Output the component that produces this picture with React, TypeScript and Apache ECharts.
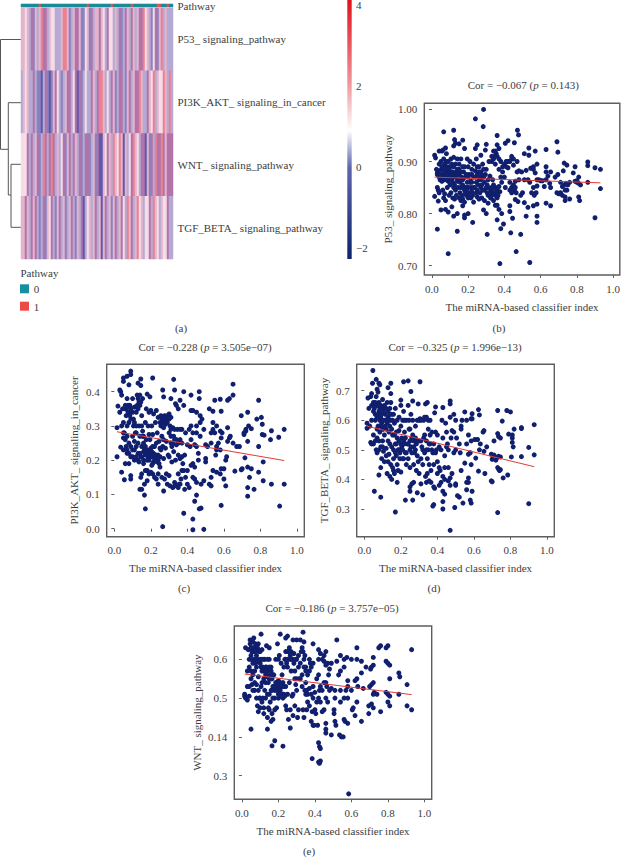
import React, { useEffect, useRef } from "react";
import * as echarts from "echarts";

const FONT = "Liberation Serif";
const INK = "#3d3d3d";
const NAVY = "#101f6e";

const xTicks = [0, 0.2, 0.4, 0.6, 0.8, 1.0];
const xName = "The miRNA-based classifier index";

const pathways = ["P53_ signaling_pathway", "PI3K_AKT_ signaling_in_cancer", "WNT_ signaling_pathway", "TGF_BETA_ signaling_pathway"];
const D = -1.25, P = -0.5, L = 0.25, M = 1, K = 1.75, W = 2.5, R = 3.25, S = 4;
const heatColors = ["#2a2f88", "#6058ac", "#8a82c0", "#b4aad4", "#b274a8", "#e4b4cc", "#f6dce6", "#ec8090", "#d8202c"];
const rowP53 = [K,K,W,K,L,M,P,K,L,K,R,M,M,L,K,W,W,L,L,L,K,R,R,K,P,L,K,M,M,K,P,P,W,K,P,M,L,K,K,M, K,W,L,M,W,W,L,K,L,M,P,L,M,K,L,M,K,L,K,M,M,R,W,K,L,P,W,M,P,K,R,L,K,L,L,L];
const rowPI3K = [L,K,W,K,L,L,M,L,P,P,D,L,M,P,D,P,K,M,W,L,P,L,K,M,M,L,W,M,D,M,P,L,W,L,L,M,K,L,M,R, R,K,L,W,L,M,K,P,L,M,M,L,P,K,M,L,K,M,M,R,K,L,L,M,K,W,R,L,K,W,W,R,K,L,R,L];
const rowWNT = [W,W,W,M,L,M,L,K,M,P,L,R,M,L,M,R,M,L,K,L,W,M,P,K,M,L,M,K,L,M,P,L,M,M,P,L,K,P,M,D, D,K,W,M,K,L,R,K,W,R,K,D,K,L,W,M,R,K,W,L,M,M,D,K,P,M,L,R,M,M,R,M,K,M,M,M];
const rowTGF = [K,K,M,K,L,M,K,M,L,P,L,M,P,K,W,M,L,P,K,M,L,K,P,L,K,M,L,P,K,L,M,D,L,W,K,L,K,M,L,K, D,K,M,L,K,P,K,M,L,K,M,W,L,R,K,M,L,K,R,W,K,L,W,W,M,L,R,K,W,L,K,W,W,M,L,L];
const annotation = [0,0,0,0,0,0,0,0,0,1,0,0,0,0,0,0,0,0,0,0,0,0,0,0,0,0,0,0,0,0,0,0,0,1,0,0,0,0,0,0,0,0,0,0,0,1,0,0,0,0,0,0,0,0,0,1,0,0,0,0,0,0,0,0,0,0,0,0,1,1,0,0,0,1,0,0];
const rows = [rowP53, rowPI3K, rowWNT, rowTGF];

const colorbarTicks = [4, 2, 0, -2];

const pointsB = [
[.285,1],[.24,.982],[.283,.967],[.065,.957],[.12,.96],[.472,.96],[.478,.951],[.36,.95],[.125,.942],[.17,.941],[.13,.935],[.15,.934],[.12,.93],[.25,.932],[.24,.925],[.3,.933],[.36,.932],[.37,.925],[.405,.935],[.42,.94],[.455,.936],[.69,.938],[.535,.926],[.63,.923],[.695,.918],[.57,.92],[.51,.915],[.535,.912],
[.09,.723],[.375,.704],[.54,.706],[.465,.727],[.03,.77],[.14,.766],[.305,.76],[.38,.771],[.49,.76],[.435,.763],[.395,.78],[.225,.783],[.58,.783],[.9,.792],[.36,.788],[.18,.792],[.12,.795],[.2,.8],[.14,.8],[.05,.807],[.075,.808],[.09,.803],[.18,.797],[.285,.807],[.3,.8],[.385,.8],[.37,.808],[.43,.804],[.445,.791],[.52,.795],[.58,.795],[.43,.815],[.56,.815],[.53,.812],[.58,.818],[.63,.82],[.655,.815],[.17,.815],[.11,.813],[.35,.816],[.36,.816],[.51,.821],[.46,.827],[.475,.823],
[.93,.885],[.9,.888],[.86,.899],[.86,.892],[.745,.893],[.73,.897],[.79,.89],[.93,.848],[.86,.86],[.81,.87],[.8,.863],[.81,.858],[.81,.832],[.815,.825],[.74,.858],[.73,.855],[.72,.852],[.71,.86],[.735,.845],[.745,.845],[.71,.84],[.72,.835],[.735,.825],[.735,.832],[.76,.828],[.78,.878],[.695,.875],[.68,.87],[.725,.882],[.655,.88],[.63,.89],[.63,.88],[.63,.865],[.61,.863],[.64,.872],[.65,.858],[.655,.85],[.62,.852],[.6,.863],[.59,.865],[.58,.865],[.58,.853],[.57,.878],[.58,.895],[.545,.887],[.52,.883],[.495,.88],[.48,.882],[.47,.88],[.56,.89],[.56,.885],[.69,.84],[.7,.838],[.76,.86],[.75,.855],[.79,.862],[.8,.86],[.82,.855],
[.015,.912],[.02,.907],[.015,.833],[.035,.824],[.04,.92],[.055,.92],[.06,.922],[.075,.926],[.08,.915],[.025,.885],[.03,.878],[.035,.882],[.04,.87],[.05,.884],[.05,.9],[.06,.89],[.065,.875],[.07,.895],[.075,.885],[.08,.9],[.085,.89],[.09,.88],[.09,.862],[.1,.89],[.1,.875],[.105,.905],[.11,.865],[.115,.88],[.12,.908],[.12,.87],[.125,.855],[.13,.895],[.13,.845],[.14,.905],[.14,.885],[.14,.862],[.145,.85],[.15,.895],[.15,.875],[.155,.84],[.16,.905],[.16,.865],[.165,.835],[.17,.89],[.17,.855],[.175,.88],[.18,.925],[.18,.845],[.185,.87],[.19,.835],[.195,.905],[.195,.86],[.2,.89],[.2,.85],[.205,.875],[.21,.9],[.21,.832],[.215,.862],[.22,.885],[.22,.842],[.23,.895],[.23,.87],[.235,.85],[.24,.882],[.245,.905],[.245,.86],[.25,.875],[.25,.845],[.26,.89],[.26,.865],[.265,.84],[.27,.912],[.27,.88],[.275,.855],[.28,.895],[.285,.87],[.29,.845],[.295,.922],[.3,.885],[.305,.855],[.31,.835],[.315,.9],[.32,.872],[.325,.845],[.33,.91],[.33,.835],[.335,.865],[.34,.92],[.345,.84],[.35,.895],[.35,.85],[.355,.915],[.36,.845],[.37,.885],[.375,.842],[.38,.9],[.385,.86],[.39,.88],[.4,.895],[.405,.85],[.41,.9],[.42,.888],[.43,.86],[.44,.905],[.44,.85],[.45,.893],[.455,.845],[.46,.862],[.465,.84],[.47,.9],[.48,.865],[.49,.835],[.5,.84],[.51,.865],[.53,.865],[.54,.86],[.55,.84],[.56,.85],[.565,.835],[.575,.84],
[.03,.85],[.035,.845],[.04,.84],[.055,.862],[.06,.845],[.065,.83],[.07,.838],[.075,.825],[.085,.85],[.095,.835],[.105,.84],[.115,.83],[.125,.828],[.135,.835],[.15,.83],[.16,.825],[.17,.828],[.18,.822],[.19,.845],[.2,.83],[.215,.83],[.23,.822],[.25,.832],[.26,.828],[.275,.83],[.29,.825],[.31,.82],[.325,.83],[.34,.825],[.36,.83],[.07,.865],[.1,.855],[.12,.85],[.16,.85],[.185,.85],[.22,.86],[.27,.85],[.31,.865],[.34,.855],[.37,.852],
[.03,.875],[.04,.895],[.045,.865],[.05,.875],[.055,.89],[.06,.87],[.065,.905],[.07,.88],[.075,.87],[.08,.875],[.085,.865],[.09,.9],[.095,.885],[.1,.87],[.105,.88],[.11,.895],[.115,.86],[.12,.89],[.125,.875],[.13,.87],[.135,.88],[.14,.875],[.145,.865],[.15,.885],[.155,.86],[.16,.88],[.165,.87],[.17,.865],[.175,.85],[.18,.89],[.185,.84],[.19,.875],[.195,.85],[.2,.87],[.205,.84],[.21,.86],[.215,.85],[.22,.875],[.225,.835],[.23,.85],[.24,.87],[.245,.84],[.25,.89],[.255,.855],[.26,.88],[.265,.87],[.27,.865],[.275,.875],[.28,.845],[.285,.885],[.29,.86],[.295,.875],[.3,.85],[.305,.84],[.31,.85],[.32,.84],[.325,.83],[.33,.85],[.335,.84],[.34,.84],[.345,.85],[.35,.835],[.36,.84],[.365,.835],[.33,.9],[.34,.905],[.35,.92],[.36,.91],[.345,.91],[.37,.905],[.38,.87],[.39,.89],[.4,.87],[.41,.89],[.42,.9],[.43,.9],[.44,.91],[.45,.905],[.43,.845],[.44,.84],[.45,.855],[.46,.85]
];

const pointsC = [
[.09,.46],[.09,.45],[.05,.44],[.07,.445],[.05,.43],[.21,.44],[.145,.437],[.325,.436],[.13,.425],[.08,.42],[.145,.418],[.265,.405],[.33,.405],[.03,.405],[.035,.4],[.04,.39],[.65,.422],[.65,.39],[.38,.4],[.465,.4],[.42,.39],[.465,.38],[.62,.375],[.63,.38],[.58,.378],[.55,.375],[.79,.375],[.18,.393],[.195,.385],[.27,.385],[.31,.38],[.36,.375],[.38,.36],[.34,.36],[.35,.35],[.73,.34],[.45,.34],[.43,.345],[.42,.345],[.585,.343],[.54,.343],[.52,.35],[.695,.33],[.805,.325],[.78,.32],[.81,.305],[.735,.3],[.72,.29],[.75,.292],[.72,.285],[.93,.29],[.86,.286],[.9,.267],[.855,.26],[.81,.275],[.82,.273],[.79,.24],[.73,.255],[.71,.28],[.71,.275],[.65,.25],[.63,.265],[.62,.295],[.62,.255],[.635,.27],[.67,.24],[.685,.24],[.695,.172],[.7,.175],[.66,.168],[.61,.2],[.615,.21],[.56,.23],[.58,.23],[.59,.28],[.585,.265],[.57,.25],[.56,.24],[.555,.215],[.54,.31],[.56,.3],[.58,.285],
[.43,-.003],[.49,-.002],[.265,.006],[.43,.028],[.38,.045],[.17,.058],[.465,.058],[.475,.06],[.44,.08],[.585,.068],[.905,.066],[.45,.098],[.165,.098],[.27,.11],[.475,.13],[.49,.14],[.15,.115],[.14,.115],[.52,.13],[.53,.125],[.61,.125],[.73,.095],[.73,.12],[.765,.115],[.74,.15],[.815,.14],[.86,.13],[.93,.13],[.79,.165],[.73,.18],[.75,.175],[.815,.195],[.715,.207],[.6,.145],[.585,.175],[.6,.175],[.58,.16],[.56,.165],[.53,.15],[.54,.17],[.44,.145],[.43,.15],[.45,.135],[.41,.12],[.385,.115],[.42,.185],[.44,.18],[.43,.19],[.46,.2],[.5,.195],[.5,.205],[.46,.22],[.45,.24],[.44,.245],[.5,.245],[.51,.24],[.53,.25],[.47,.27],[.45,.28],[.43,.28],[.42,.3],[.47,.31],[.49,.29],[.54,.29],[.53,.28],[.55,.28],[.45,.3],[.47,.33],[.48,.32],
[.015,.21],[.015,.295],[.02,.358],[.03,.34],[.035,.238],[.04,.165],[.055,.143],[.05,.265],[.05,.31],[.055,.28],[.06,.36],[.065,.33],[.065,.35],[.07,.38],[.07,.3],[.07,.22],[.075,.34],[.08,.19],[.08,.25],[.085,.36],[.09,.32],[.09,.155],[.09,.145],[.09,.21],[.1,.34],[.1,.27],[.1,.23],[.105,.3],[.11,.2],[.11,.355],[.12,.28],[.12,.34],[.12,.24],[.125,.39],[.13,.38],[.13,.22],[.13,.25],[.135,.3],[.135,.195],[.14,.36],[.14,.27],[.145,.21],[.145,.15],[.15,.33],[.15,.24],[.15,.16],[.155,.38],[.155,.285],[.16,.225],[.165,.13],[.17,.31],[.17,.215],[.175,.35],[.175,.26],[.18,.17],[.18,.14],[.185,.3],[.185,.225],[.19,.34],[.19,.2],[.195,.26],[.2,.345],[.2,.22],[.205,.3],[.205,.185],[.21,.275],[.21,.21],[.215,.335],[.215,.195],[.22,.24],[.22,.205],[.225,.31],[.225,.21],[.23,.345],[.23,.205],[.235,.28],[.235,.195],[.24,.325],[.24,.215],[.24,.13],[.245,.255],[.25,.31],[.25,.18],[.255,.33],[.255,.23],[.26,.15],[.26,.27],[.265,.24],[.27,.32],[.27,.205],[.275,.145],[.28,.305],[.28,.235],[.285,.255],[.285,.16],[.29,.33],[.29,.13],[.295,.215],[.3,.335],[.3,.28],[.3,.155],[.305,.125],[.31,.325],[.31,.25],[.315,.195],[.32,.295],[.32,.12],[.325,.225],[.33,.26],[.33,.135],[.335,.365],[.335,.2],[.34,.125],[.34,.245],[.345,.29],[.35,.215],[.35,.16],[.355,.13],[.36,.26],[.36,.205],[.365,.145],[.37,.29],[.37,.25],[.375,.19],[.38,.17],[.385,.215],[.39,.28],[.39,.15],[.4,.245],[.4,.13],[.41,.29],[.415,.24],[.42,.26],[.06,.19],[.05,.23],[.07,.27],[.08,.31],[.11,.255],[.16,.27],[.16,.19],[.19,.275],[.2,.235],[.21,.19],[.23,.25],[.25,.21],[.27,.26],[.3,.21],[.31,.29],
[.06,.35],[.07,.355],[.075,.36],[.08,.34],[.085,.33],[.09,.35],[.1,.38],[.105,.32],[.11,.31],[.115,.28],[.12,.3],[.125,.36],[.13,.35],[.135,.37],[.14,.39],[.145,.37],[.15,.3],[.155,.27],[.16,.25],[.165,.23],[.17,.24],[.175,.22],[.18,.23],[.185,.21],[.19,.22],[.195,.215],[.2,.21],[.205,.225],[.21,.24],[.215,.22],[.22,.215],[.225,.2],[.23,.215],[.235,.21],[.24,.2],[.245,.19],[.25,.235],[.255,.3],[.26,.32],[.265,.31],[.27,.295],[.275,.33],[.28,.32],[.285,.325],[.29,.31],[.295,.33],[.3,.32],[.305,.3],[.31,.27],[.315,.24],[.32,.25],[.325,.27],[.33,.29],[.34,.26],[.35,.25],[.36,.29],[.37,.21],[.04,.3],[.045,.35],[.05,.28],[.06,.26],[.065,.24],[.07,.23],[.08,.22],[.09,.24],[.1,.21],[.11,.23],[.12,.21],[.13,.2],[.14,.22],[.15,.21],[.16,.2],[.17,.17],[.18,.2],[.19,.16],[.2,.165],[.21,.16],[.22,.15],[.23,.145],[.24,.16],[.33,.125],[.35,.12],[.36,.13],[.37,.17],[.4,.17]
];

const pointsD = [
[.047,.768],[.065,.738],[.045,.725],[.08,.725],[.085,.72],[.215,.73],[.24,.733],[.305,.73],[.145,.725],[.13,.71],[.07,.705],[.075,.695],[.255,.697],[.04,.69],[.035,.68],[.02,.675],[.145,.69],[.065,.68],[.1,.67],[.2,.668],[.265,.665],[.47,.665],[.47,.655],[.345,.66],[.335,.655],[.295,.655],[.39,.645],[.43,.643],[.55,.628],[.59,.622],[.625,.636],[.63,.618],[.73,.633],[.78,.633],[.8,.628],[.755,.597],[.86,.575],[.86,.572],[.82,.57],[.93,.585],[.79,.553],[.81,.55],[.81,.54],[.81,.525],[.815,.51],[.9,.508],[.93,.483],[.86,.477],[.805,.476],[.745,.476],[.735,.478],[.73,.555],[.735,.545],[.745,.54],[.695,.485],[.71,.482],[.7,.468],[.72,.465],[.73,.475],[.695,.395],[.7,.392],[.76,.405],[.785,.415],[.735,.435],[.74,.43],[.73,.44],[.745,.433],[.66,.42],[.625,.428],[.585,.45],[.61,.472],[.63,.5],[.635,.52],[.67,.51],[.71,.53],[.655,.495],[.65,.56],[.655,.565],[.62,.535],[.605,.535],[.585,.53],[.585,.605],[.59,.605],[.56,.6],[.57,.55],[.56,.52],[.53,.58],[.535,.6],[.53,.57],[.58,.49],[.57,.485],[.55,.455],[.53,.43],[.57,.405],[.57,.39],[.56,.365],[.59,.36],[.58,.33],[.585,.32],[.54,.32],[.52,.34],[.51,.345],[.495,.305],[.43,.3],[.47,.228],[.73,.288],[.9,.318],[.17,.29],[.225,.33],[.265,.33],[.055,.36],[.09,.34],[.29,.355],[.32,.348],[.375,.31],[.38,.315],[.43,.325],[.44,.35],[.43,.36],[.25,.375],[.25,.36],[.26,.385],[.27,.39],[.18,.39],[.31,.385],[.34,.39],[.355,.395],[.385,.37],[.38,.375],[.365,.39],[.41,.38],[.42,.39],[.44,.4],[.46,.395],[.47,.405],[.5,.385],[.5,.38],[.56,.39],
[.015,.59],[.015,.573],[.025,.64],[.035,.525],[.04,.52],[.05,.55],[.05,.66],[.06,.62],[.06,.6],[.065,.5],[.07,.54],[.07,.65],[.075,.58],[.08,.415],[.08,.63],[.085,.56],[.09,.44],[.09,.61],[.095,.59],[.095,.47],[.1,.53],[.1,.64],[.105,.495],[.11,.6],[.11,.55],[.115,.62],[.12,.505],[.12,.57],[.125,.66],[.125,.42],[.13,.61],[.13,.53],[.135,.485],[.14,.64],[.14,.41],[.14,.58],[.145,.45],[.15,.62],[.15,.51],[.15,.4],[.155,.55],[.155,.44],[.16,.47],[.165,.59],[.165,.42],[.17,.52],[.175,.48],[.175,.56],[.18,.6],[.18,.45],[.185,.43],[.19,.5],[.19,.565],[.195,.47],[.2,.65],[.2,.425],[.205,.54],[.205,.51],[.21,.6],[.21,.47],[.215,.63],[.215,.53],[.22,.56],[.225,.49],[.23,.6],[.23,.45],[.235,.52],[.24,.65],[.24,.47],[.245,.57],[.25,.5],[.25,.44],[.255,.62],[.26,.54],[.265,.6],[.27,.51],[.27,.45],[.275,.49],[.28,.58],[.285,.43],[.29,.6],[.29,.48],[.3,.53],[.3,.42],[.305,.605],[.31,.47],[.315,.51],[.32,.45],[.325,.6],[.33,.55],[.33,.49],[.335,.41],[.34,.61],[.34,.53],[.345,.47],[.35,.57],[.355,.45],[.36,.6],[.36,.52],[.365,.43],[.37,.56],[.375,.49],[.38,.52],[.385,.625],[.39,.56],[.395,.5],[.4,.46],[.41,.51],[.415,.43],[.425,.6],[.43,.54],[.44,.48],[.445,.59],[.45,.56],[.455,.52],[.46,.44],[.47,.61],[.475,.54],[.48,.565],[.49,.62],[.49,.49],[.5,.5],[.505,.54],[.52,.52],[.525,.49],[.04,.6],[.07,.49],[.08,.53],[.1,.57],[.12,.6],[.13,.46],[.16,.62],[.17,.64],[.19,.61],[.22,.52],[.25,.53],[.28,.5],[.31,.6],[.35,.6],[.4,.55],
[.04,.65],[.05,.63],[.055,.64],[.06,.66],[.065,.65],[.07,.61],[.075,.62],[.08,.66],[.085,.6],[.085,.64],[.09,.58],[.09,.65],[.095,.62],[.1,.6],[.105,.63],[.105,.57],[.11,.65],[.115,.58],[.12,.64],[.125,.59],[.13,.63],[.135,.6],[.135,.56],[.14,.62],[.145,.66],[.145,.6],[.15,.57],[.155,.6],[.16,.5],[.165,.55],[.17,.49],[.175,.52],[.18,.54],[.185,.5],[.19,.53],[.195,.49],[.2,.58],[.2,.52],[.21,.5],[.215,.47],[.22,.6],[.225,.54],[.23,.49],[.24,.52],[.245,.6],[.25,.57],[.255,.51],[.26,.49],[.265,.55],[.27,.53],[.28,.54],[.285,.52],[.29,.53],[.295,.46],[.3,.6],[.31,.53],[.32,.5],[.325,.54],[.33,.61],[.34,.5],[.345,.42],[.35,.5],[.355,.52],[.36,.55],[.37,.5],[.38,.45],[.39,.49],[.4,.42],[.41,.44],[.42,.5],[.43,.41],[.44,.44],[.45,.51],[.46,.5],[.47,.38],[.48,.42],[.49,.56],[.5,.6],[.03,.58],[.05,.52],[.06,.53],[.07,.57],[.08,.5],[.09,.51],[.1,.51],[.11,.46],[.12,.48],[.14,.52],[.16,.43]
];

const pointsE = [
[.335,.67],[.105,.665],[.065,.655],[.045,.65],[.21,.665],[.25,.66],[.24,.655],[.28,.65],[.3,.65],[.32,.65],[.34,.645],[.52,.65],[.76,.635],[.8,.635],[.79,.63],[.75,.63],[.63,.63],[.93,.625],[.39,.64],[.42,.625],[.46,.62],[.54,.61],[.575,.605],[.56,.6],[.6,.6],[.63,.6],[.655,.595],[.72,.605],[.79,.595],[.8,.59],[.81,.585],[.72,.585],[.71,.58],[.705,.575],[.68,.58],[.86,.565],[.865,.555],[.81,.55],[.905,.535],[.72,.54],[.71,.535],[.655,.565],[.63,.55],[.62,.545],[.635,.53],[.7,.53],[.665,.525],[.74,.51],[.725,.515],[.72,.51],[.79,.515],[.8,.51],[.81,.505],[.86,.51],[.93,.47],[.905,.48],[.8,.49],[.81,.48],[.71,.485],[.72,.475],[.695,.48],[.695,.46],[.76,.465],[.63,.49],[.61,.475],[.605,.47],[.62,.455],[.655,.44],[.56,.445],[.565,.44],[.58,.435],[.6,.52],[.57,.52],[.54,.52],[.56,.58],[.54,.57],[.53,.56],[.58,.545],[.58,.53],[.54,.49],[.56,.5],[.58,.5],[.52,.595],[.49,.59],[.48,.575],[.49,.525],[.465,.53],[.51,.44],[.505,.46],[.505,.47],[.51,.5],[.51,.52],[.475,.56],[.43,.615],[.44,.6],[.45,.595],[.46,.585],[.42,.6],
[.585,.253],[.385,.344],[.42,.335],[.43,.338],[.425,.332],[.165,.377],[.18,.39],[.225,.376],[.05,.42],[.14,.42],[.265,.423],[.42,.385],[.425,.375],[.43,.37],[.46,.41],[.49,.405],[.46,.42],[.38,.44],[.395,.43],[.415,.43],[.46,.435],[.515,.43],[.535,.405],[.545,.4],[.555,.4],[.39,.43],[.09,.465],[.12,.475],[.165,.46],[.15,.47],
[.015,.51],[.015,.505],[.02,.5],[.03,.495],[.04,.505],[.02,.63],[.035,.625],[.04,.6],[.04,.58],[.05,.61],[.05,.55],[.055,.535],[.06,.63],[.06,.59],[.065,.625],[.07,.57],[.07,.52],[.075,.64],[.08,.61],[.08,.535],[.085,.6],[.085,.48],[.09,.625],[.09,.555],[.095,.5],[.1,.475],[.1,.59],[.105,.53],[.11,.625],[.11,.57],[.115,.5],[.12,.55],[.125,.6],[.125,.52],[.13,.58],[.135,.635],[.14,.57],[.14,.51],[.145,.475],[.15,.63],[.15,.55],[.155,.49],[.16,.58],[.165,.52],[.17,.445],[.175,.56],[.18,.5],[.185,.6],[.19,.475],[.195,.64],[.2,.545],[.2,.52],[.205,.61],[.21,.505],[.215,.59],[.22,.56],[.225,.5],[.23,.53],[.235,.6],[.24,.62],[.24,.48],[.245,.47],[.25,.58],[.25,.51],[.255,.445],[.26,.62],[.26,.54],[.265,.47],[.27,.6],[.275,.505],[.28,.455],[.285,.615],[.29,.57],[.29,.48],[.295,.535],[.3,.6],[.305,.45],[.31,.47],[.315,.55],[.32,.59],[.325,.62],[.33,.56],[.335,.47],[.34,.45],[.345,.61],[.35,.54],[.35,.51],[.355,.47],[.36,.56],[.36,.49],[.37,.525],[.375,.59],[.38,.51],[.385,.465],[.39,.59],[.4,.515],[.405,.46],[.41,.49],[.42,.56],[.425,.52],[.43,.49],[.44,.465],[.45,.54],[.45,.47],[.46,.5],[.47,.49],
[.03,.57],[.045,.64],[.06,.56],[.075,.59],[.09,.64],[.1,.62],[.12,.6],[.135,.56],[.15,.6],[.16,.55],[.17,.53],[.19,.54],[.2,.5],[.21,.54],[.23,.58],[.25,.62],[.27,.57],[.3,.52],[.33,.53],[.34,.58],[.37,.6],[.05,.63],[.065,.6],[.08,.58],[.11,.54],[.13,.54],[.14,.6],[.16,.52],[.18,.53],[.2,.6],[.22,.51],[.24,.53],[.26,.6],[.28,.51],[.31,.58],[.35,.58],[.39,.53],
[.05,.6],[.055,.62],[.06,.645],[.065,.62],[.07,.63],[.075,.62],[.08,.6],[.085,.63],[.09,.595],[.095,.62],[.1,.6],[.105,.58],[.11,.6],[.115,.58],[.12,.57],[.125,.57],[.13,.56],[.135,.58],[.14,.555],[.145,.54],[.15,.58],[.155,.56],[.16,.57],[.165,.55],[.17,.56],[.175,.53],[.18,.52],[.185,.54],[.19,.52],[.195,.53],[.2,.51],[.205,.53],[.21,.52],[.215,.505],[.22,.53],[.225,.54],[.23,.51],[.235,.505],[.24,.6],[.245,.59],[.25,.6],[.255,.62],[.26,.63],[.265,.61],[.27,.62],[.275,.6],[.28,.6],[.285,.59],[.29,.55],[.295,.6],[.3,.55],[.31,.61],[.32,.55],[.33,.63],[.335,.62],[.34,.6],[.345,.52],[.35,.57],[.355,.52],[.36,.51],[.37,.57],[.37,.48],[.38,.58],[.39,.5],[.4,.47],[.41,.55],[.42,.5],[.43,.53],[.44,.52],[.45,.61],[.46,.54],[.47,.59],[.48,.52],[.03,.53],[.04,.53],[.05,.57],[.06,.52],[.07,.54],[.08,.5],[.09,.52],[.1,.5],[.11,.49],[.12,.46],[.13,.5],[.14,.45],[.15,.51],[.16,.44],[.17,.5],[.18,.47]
];

const panels = [
  { title: "Cor = −0.067 ({i|p} = 0.143)", name: "P53_ signaling_pathway", points: pointsB, fit: [[0.015, 0.87], [0.93, 0.859]], grid: { left: 424.3, top: 103.3, width: 197.4, height: 171.7 }, xRange: [-0.042, 1.037], yRange: [0.682, 1.0118], ticks: [0.7, 0.8, 0.9, 1.0], labels: ["0.70", "0.80", "0.90", "1.00"], titleAt: [523.3, 85.7], yNameGap: 36 },
  { title: "Cor = −0.228 ({i|p} = 3.505e−07)", name: "PI3K_AKT_ signaling_in_cancer", points: pointsC, fit: [[0.015, 0.283], [0.93, 0.199]], grid: { left: 106.7, top: 364.3, width: 197.6, height: 172.4 }, xRange: [-0.0416, 1.04], yRange: [-0.0234, 0.48], ticks: [0, 0.1, 0.2, 0.3, 0.4], labels: ["0.0", "0.1", "0.2", "0.3", "0.4"], titleAt: [205, 348], yNameGap: 32.7 },
  { title: "Cor = −0.325 ({i|p} = 1.996e−13)", name: "TGF_BETA_ signaling_pathway", points: pointsD, fit: [[0.015, 0.58], [0.93, 0.443]], grid: { left: 356.7, top: 364.3, width: 197.6, height: 172.4 }, xRange: [-0.0416, 1.04], yRange: [0.2064, 0.789], ticks: [0.3, 0.4, 0.5, 0.6, 0.7], labels: ["0.3", "0.4", "0.5", "0.6", "0.7"], titleAt: [455, 348], yNameGap: 32.7 },
  { title: "Cor = −0.186 ({i|p} = 3.757e−05)", name: "WNT_ signaling_pathway", points: pointsE, fit: [[0.015, 0.562], [0.93, 0.509]], grid: { left: 234.3, top: 626, width: 197.4, height: 173.3 }, xRange: [-0.0416, 1.04], yRange: [0.239, 0.686], ticks: [0.3, 0.4, 0.5, 0.6], labels: ["0.3", "0.14", "0.5", "0.6"], titleAt: [332, 609], yNameGap: 37.6 },
];

const captions = [["(a)", 181, 328], ["(b)", 499, 328], ["(c)", 184, 588], ["(d)", 434, 588], ["(e)", 309, 850.5]] as const;

function buildOption() {
  const txt = { fontFamily: FONT, fontSize: 11, color: INK };
  const grids: any[] = [
    { left: 21, top: 8, width: 152, height: 251 },
    { left: 21, top: 0, width: 152, height: 7 },
  ];
  const cols = rows[0].map((_, i) => String(i));
  const xAxes: any[] = [
    { type: "category", gridIndex: 0, data: cols, show: false },
    { type: "category", gridIndex: 1, data: cols, show: false },
  ];
  const plain = { axisLine: { show: false }, axisTick: { show: false }, splitLine: { show: false } };
  const yAxes: any[] = [
    { type: "category", gridIndex: 0, data: pathways, inverse: true, position: "right", ...plain, axisLabel: { ...txt, margin: 4.5, interval: 0 } },
    { type: "category", gridIndex: 1, data: ["Pathway"], position: "right", ...plain, axisLabel: { ...txt, margin: 4.5 } },
  ];
  const heatData: number[][] = [];
  rows.forEach((r, y) => r.forEach((v, x) => heatData.push([x, y, v])));
  const series: any[] = [
    { type: "heatmap", xAxisIndex: 0, yAxisIndex: 0, data: heatData, itemStyle: { borderWidth: 0 } },
    { type: "heatmap", xAxisIndex: 1, yAxisIndex: 1, data: annotation.map((v, x) => [x, 0, v]), itemStyle: { borderWidth: 0 } },
  ];
  const titles: any[] = [];
  panels.forEach((p, idx) => {
    const gi = idx + 2;
    grids.push({ ...p.grid, show: true, borderColor: "#5e5e5e", borderWidth: 1.4, backgroundColor: "transparent" });
    xAxes.push({
      type: "value", gridIndex: gi, min: p.xRange[0], max: p.xRange[1], name: xName, nameLocation: "middle", nameGap: 31.7,
      nameTextStyle: { ...txt, verticalAlign: "middle" },
      axisLine: { show: false }, splitLine: { show: false },
      axisTick: { length: 3, customValues: xTicks, lineStyle: { color: "#5e5e5e" } },
      axisLabel: { ...txt, margin: 8, customValues: xTicks, formatter: (v: number) => v.toFixed(1) },
    });
    yAxes.push({
      type: "value", gridIndex: gi, min: p.yRange[0], max: p.yRange[1], name: p.name, nameLocation: "middle", nameGap: p.yNameGap,
      nameTextStyle: { ...txt, verticalAlign: "middle" },
      axisLine: { show: false }, splitLine: { show: false },
      axisTick: { length: 3, customValues: p.ticks, lineStyle: { color: "#5e5e5e" } },
      axisLabel: { ...txt, margin: 7, customValues: p.ticks, formatter: (v: number) => p.labels[p.ticks.findIndex((t) => Math.abs(t - v) < 1e-6)] ?? "" },
    });
    series.push({ type: "scatter", xAxisIndex: gi, yAxisIndex: gi, data: p.points, symbolSize: 5, clip: false, itemStyle: { color: NAVY, opacity: 1 } });
    series.push({ type: "line", xAxisIndex: gi, yAxisIndex: gi, data: p.fit, showSymbol: false, symbol: "none", lineStyle: { color: "#e23a32", width: 1 }, z: 5 });
    titles.push({
      text: p.title, left: p.titleAt[0], top: p.titleAt[1] - 6.5, textAlign: "center", padding: 0,
      textStyle: { ...txt, fontSize: 11, fontWeight: "normal", rich: { i: { ...txt, fontSize: 11, fontStyle: "italic" } } },
    });
  });

  const gtxt = (text: string, x: number, y: number, align = "left") => ({
    type: "text", x, y, style: { text, x: 0, y: 0, align, verticalAlign: "middle", fontFamily: FONT, fontSize: 11, fill: INK },
  });
  const branch = (points: number[][]) => ({ type: "polyline", shape: { points }, style: { stroke: "#555", lineWidth: 1, fill: "none" } });
  const graphic: any[] = [
    branch([[21, 39.5], [0.5, 39.5], [0.5, 149.3], [8.3, 149.3]]),
    branch([[21, 102.7], [8.3, 102.7], [8.3, 195], [11, 195]]),
    branch([[21, 164.3], [11, 164.3], [11, 227.3], [21, 227.3]]),
    {
      type: "rect", shape: { x: 347.3, y: 0, width: 4.4, height: 259 },
      style: {
        fill: {
          type: "linear", x: 0, y: 0, x2: 0, y2: 1,
          colorStops: [
            { offset: 0, color: "#e0101a" }, { offset: 0.332, color: "#f19aa0" }, { offset: 0.504, color: "#ffffff" },
            { offset: 0.645, color: "#5f66ae" }, { offset: 0.958, color: "#152a72" }, { offset: 1, color: "#10246c" },
          ],
        },
      },
    },
    ...colorbarTicks.map((t) => gtxt(t < 0 ? `−${-t}` : String(t), 356, 167 - t * 40.4)),
    gtxt("Pathway", 20.5, 273),
    { type: "rect", shape: { x: 20, y: 284.3, width: 9, height: 9 }, style: { fill: "#17909e" } },
    { type: "rect", shape: { x: 20, y: 301.7, width: 9, height: 9 }, style: { fill: "#ee4a45" } },
    gtxt("0", 33.7, 288.7),
    gtxt("1", 33.7, 306.7),
    ...captions.map(([t, x, y]) => gtxt(t, x, y, "center")),
  ];

  return {
    animation: false,
    backgroundColor: "#ffffff",
    title: titles,
    grid: grids,
    xAxis: xAxes,
    yAxis: yAxes,
    series,
    graphic,
    visualMap: [
      { type: "continuous", show: false, seriesIndex: 0, min: -2, max: 4, inRange: { color: heatColors } },
      { type: "piecewise", show: false, seriesIndex: 1, pieces: [{ value: 0, color: "#1a8a98" }, { value: 1, color: "#e8534a" }] },
    ],
  };
}

export default function App() {
  const ref = useRef<HTMLDivElement>(null);
  useEffect(() => {
    document.body.style.margin = "0";
    const chart = echarts.init(ref.current!, undefined, { renderer: "svg" });
    chart.setOption(buildOption() as any);
    return () => chart.dispose();
  }, []);
  return <div ref={ref} style={{ width: 623, height: 857 }} />;
}
